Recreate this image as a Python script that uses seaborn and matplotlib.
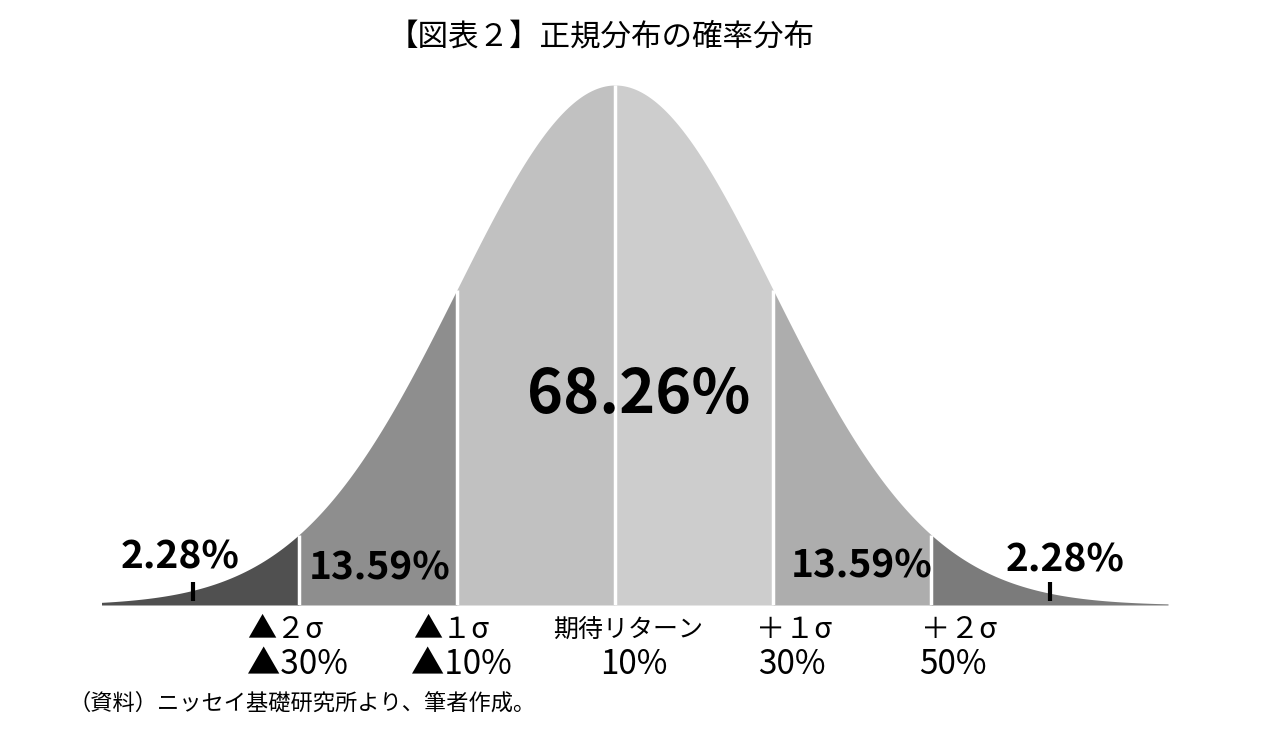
import numpy as np
import pandas as pd
import matplotlib
matplotlib.use("Agg")
import matplotlib.pyplot as plt
import seaborn as sns

# chart data (x in sigma units)
edges = [-3.25, -2, -1, 0, 1, 2, 3.5]
band_colors = ["#505050", "#8e8e8e", "#c1c1c1", "#cdcdcd", "#adadad", "#7b7b7b"]
sigma_ticks = [-2, -1, 0, 1, 2]
tick_top = ["▲２σ", "▲１σ", "期待リターン", "＋１σ", "＋２σ"]
tick_bottom = ["▲30%", "▲10%", "10%", "30%", "50%"]
tail_marks = [-2.67, 2.75]

sns.set_theme(style="white")
plt.rcParams["font.family"] = ["Noto Sans CJK JP", "DejaVu Sans"]
plt.rcParams["text.color"] = "black"


def pdf(x):
    return np.exp(-0.5 * np.asarray(x) ** 2) / np.sqrt(2 * np.pi)


fig = plt.figure(figsize=(12.65, 7.49), dpi=100)
ax = fig.add_axes([0, 144 / 749, 1, 605 / 749])
ax.set_xlim(-615 / 158, (1265 - 615) / 158)
ax.set_ylim(0, pdf(0) * 605 / 520)
ax.axis("off")

# filled bands under the curve
for i, col in enumerate(band_colors):
    xs = np.linspace(edges[i], edges[i + 1], 200)
    df = pd.DataFrame({"x": xs, "y": pdf(xs)})
    sns.lineplot(data=df, x="x", y="y", ax=ax, color=col, lw=0)
    ax.fill_between(df["x"], 0, df["y"], color=col, lw=0)

# white separators
for s in edges[1:-1]:
    ax.vlines(s, 0, pdf(s), color="white", lw=2.5)

# small black marks in the tails
for m in tail_marks:
    ax.vlines(m, 0.003, 0.018, color="black", lw=3)

# percentage labels
ax.text(0.15, 0.161, "68.26%", ha="center", va="center", fontsize=44, fontweight="bold")
ax.text(-1.49, 0.0284, "13.59%", ha="center", va="center", fontsize=28, fontweight="bold")
ax.text(1.56, 0.030, "13.59%", ha="center", va="center", fontsize=28, fontweight="bold")
ax.text(-2.75, 0.0368, "2.28%", ha="center", va="center", fontsize=28, fontweight="bold")
ax.text(2.85, 0.0345, "2.28%", ha="center", va="center", fontsize=28, fontweight="bold")

# axis labels below the curve
top_off = [-0.09, -0.04, 0.08, 0.13, 0.18]
bot_off = [-0.01, 0.03, 0.12, 0.12, 0.14]
top_size = [21, 21, 18, 21, 21]
for s, top, bot, to, bo, fs in zip(sigma_ticks, tick_top, tick_bottom, top_off, bot_off, top_size):
    ax.text(s + to, -0.0192, top, ha="center", va="center", fontsize=fs, clip_on=False)
    ax.text(s + bo, -0.046, bot, ha="center", va="center", fontsize=24, clip_on=False)

fig.text(601 / 1265, 1 - 38 / 749, "【図表２】正規分布の確率分布", ha="center", va="center", fontsize=22)
fig.text(68 / 1265, 1 - 703 / 749, "（資料）ニッセイ基礎研究所より、筆者作成。", ha="left", va="center", fontsize=16)

fig.savefig("out.png", dpi=100, facecolor="white")
